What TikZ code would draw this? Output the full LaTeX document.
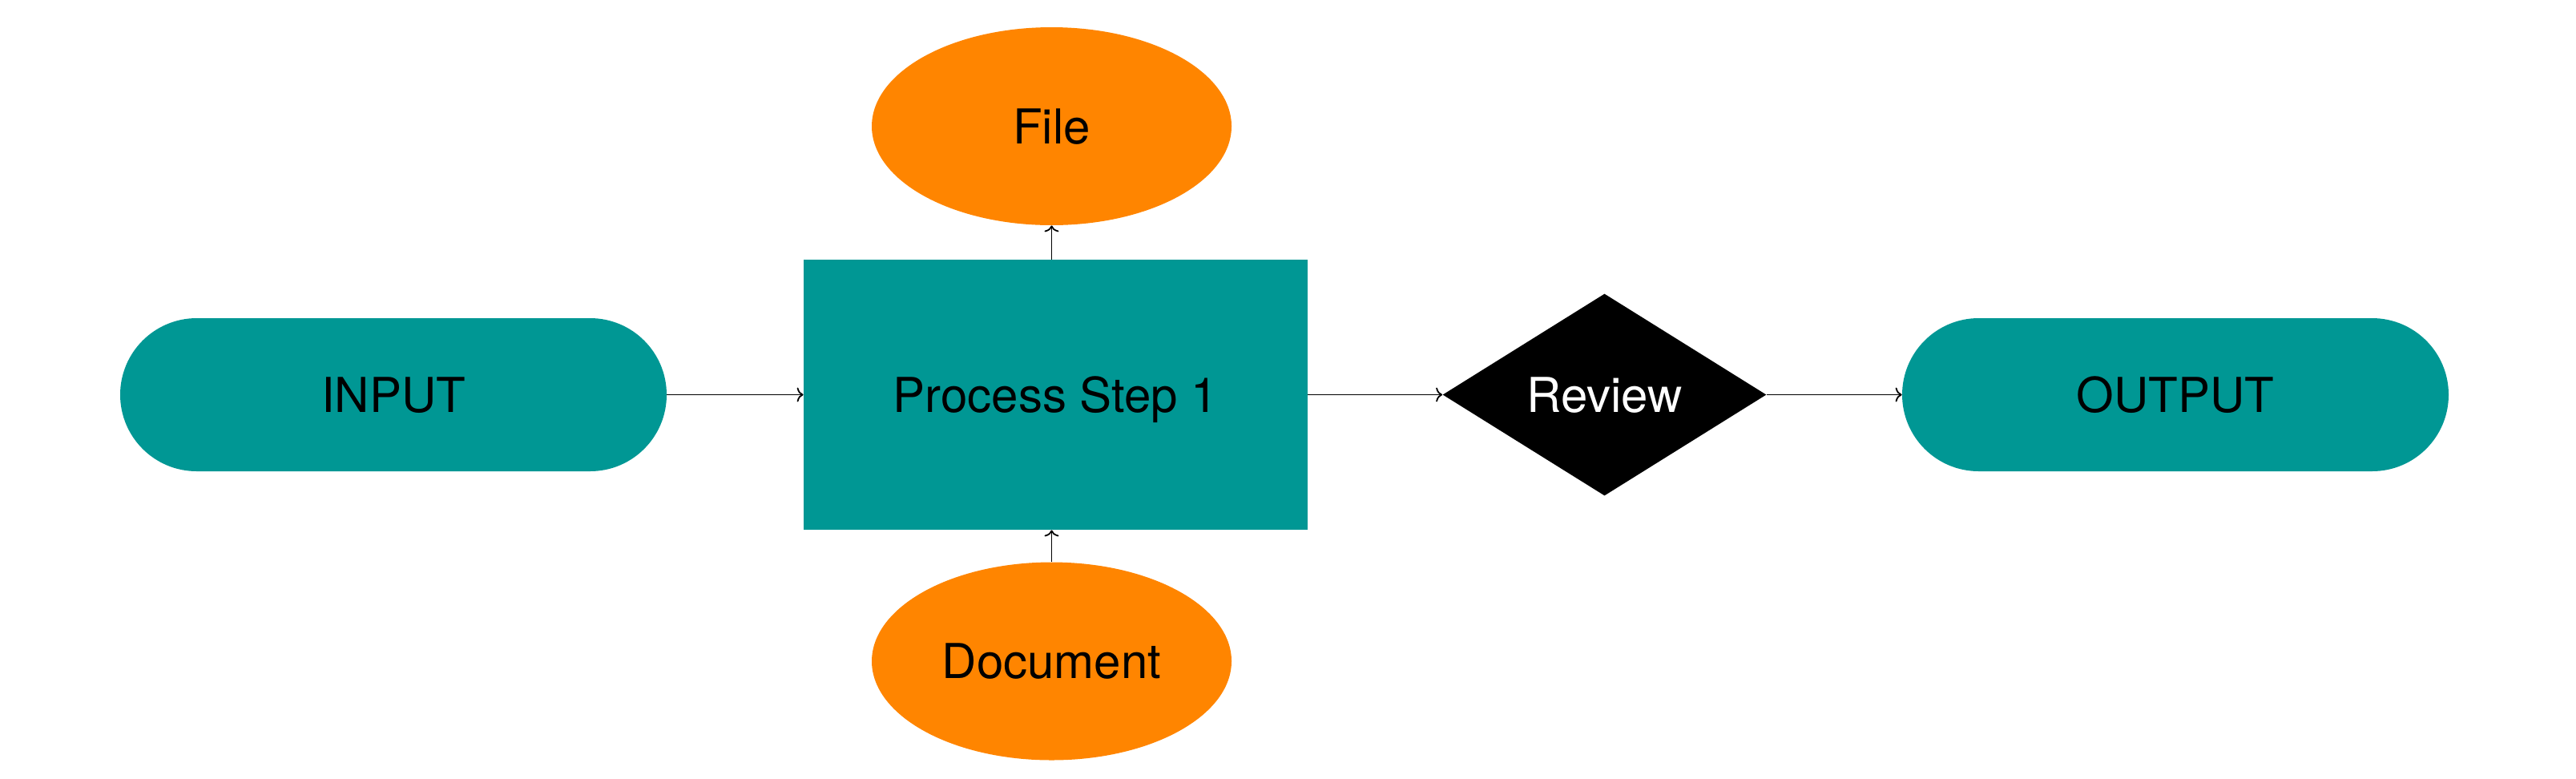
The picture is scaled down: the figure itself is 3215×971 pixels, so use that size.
\documentclass[tikz,border=0pt]{standalone}
\usepackage{fontspec}
\setmainfont{TeX Gyre Heros}
\usetikzlibrary{shapes.geometric,arrows.meta}
\definecolor{tealc}{RGB}{0,151,148}
\definecolor{orangec}{RGB}{255,133,0}
\tikzset{
  lbl/.style={font=\fontsize{30}{36}\selectfont, text=black, inner sep=0pt, text height=21.5pt, text depth=0pt},
  pill/.style={lbl, fill=tealc, rounded corners=47.75pt, minimum width=341pt, minimum height=95.5pt},
  procbox/.style={lbl, fill=tealc, minimum width=314.5pt, minimum height=168.5pt},
  oval/.style={lbl, ellipse, fill=orangec, minimum width=224.5pt, minimum height=123.5pt},
  decision/.style={lbl, diamond, fill=black, text=white, minimum width=202pt, minimum height=126pt, shape aspect=1.6},
  conn/.style={draw=black, line width=0.9pt, -{To[length=4pt,width=9pt]}}
}
\begin{document}
\begin{tikzpicture}[x=0.5pt,y=-0.5pt]
\useasboundingbox (0,0) rectangle (3215,971);
\node[pill] (input) at (491,492.5) {INPUT};
\node[procbox] (proc) at (1317.5,492.5) {Process Step 1};
\node[oval] (file) at (1312.5,157.5) {File};
\node[oval] (doc) at (1312.5,825) {Document};
\node[decision] (review) at (2002.5,492.5) {Review};
\node[pill] (output) at (2715,492.5) {OUTPUT};
\draw[conn] (input.east) -- (proc.west);
\draw[conn] (file.south |- proc.north) -- (file.south);
\draw[conn] (doc.north) -- (doc.north |- proc.south);
\draw[conn] (proc.east) -- (review.west);
\draw[conn] (review.east) -- (output.west);
\end{tikzpicture}
\end{document}
